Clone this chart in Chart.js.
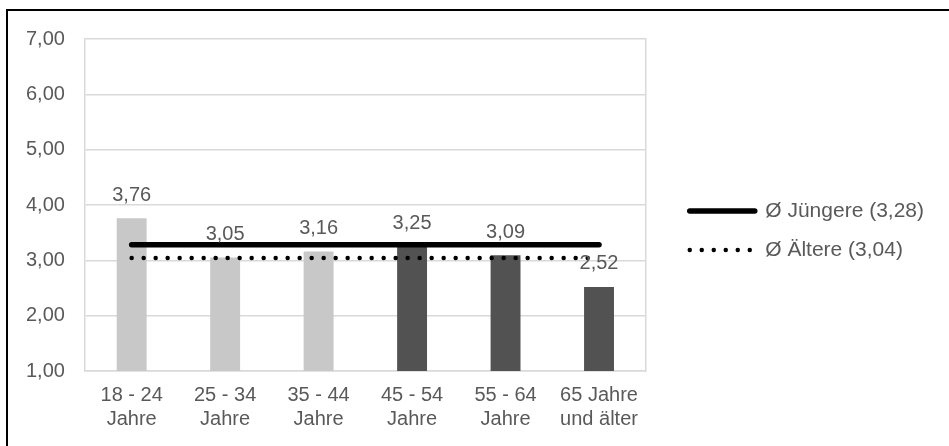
<!DOCTYPE html>
<html lang="de">
<head>
<meta charset="utf-8">
<title>Durchschnitt nach Altersgruppen</title>
<script src="https://cdn.jsdelivr.net/npm/chart.js@4/dist/chart.umd.min.js"></script>
<style>
    html, body { margin: 0; padding: 0; background: #fff; overflow: hidden; }
    #rahmen {
        position: absolute; left: 6px; top: 9px;
        width: 2000px; height: 2000px;
        border: 2px solid #000;
    }
    #box { position: absolute; left: 0; top: 0; width: 949px; height: 446px; }
</style>
</head>
<body>
<div id="rahmen"></div>
<div id="box"><canvas id="altersChart"></canvas></div>
<script>
// Daten
const altersgruppen = [
    ["18 - 24", "Jahre"],
    ["25 - 34", "Jahre"],
    ["35 - 44", "Jahre"],
    ["45 - 54", "Jahre"],
    ["55 - 64", "Jahre"],
    ["65 Jahre", "und älter"]
];
const gruppe = ["jung", "jung", "jung", "alt", "alt", "alt"];
const werte = [3.76, 3.05, 3.16, 3.25, 3.09, 2.52];
const schnittJuengere = [3.28, 3.28, 3.28, 3.28, 3.28, 3.28];
const schnittAeltere = [3.04, 3.04, 3.04, 3.04, 3.04, 3.04];
const labelJuengere = "Ø Jüngere (3,28)";
const labelAeltere = "Ø Ältere (3,04)";
const yTicks = [1, 2, 3, 4, 5, 6, 7];

const schrift = '"Liberation Sans", Arial, sans-serif';
const textFarbe = "#595959";
const gitterFarbe = "#d9d9d9";
const farben = { jung: "#c8c8c8", alt: "#525252" };

function komma(v) {
    return v.toFixed(2).replace(".", ",");
}

// Werte über den Balken
const wertLabels = {
    id: "wertLabels",
    afterDatasetsDraw(chart) {
        const ctx = chart.ctx;
        const meta = chart.getDatasetMeta(0);
        ctx.save();
        ctx.font = "20px " + schrift;
        ctx.fillStyle = textFarbe;
        ctx.textAlign = "center";
        ctx.textBaseline = "middle";
        meta.data.forEach((bar, i) => {
            ctx.fillText(komma(werte[i]), bar.x, bar.y - 23);
        });
        ctx.restore();
    }
};

Chart.defaults.font.family = schrift;
Chart.defaults.font.size = 20;
Chart.defaults.color = textFarbe;

const ctx = document.getElementById("altersChart").getContext("2d");
new Chart(ctx, {
    type: "bar",
    data: {
        labels: altersgruppen,
        datasets: [
            {
                label: "Mittelwert",
                data: werte,
                backgroundColor: gruppe.map(g => farben[g]),
                categoryPercentage: 1,
                barPercentage: 0.32,
                order: 2
            },
            {
                label: labelJuengere,
                data: schnittJuengere,
                type: "line",
                borderColor: "#000",
                borderWidth: 5.5,
                borderCapStyle: "round",
                pointRadius: 0,
                fill: false,
                order: 1
            },
            {
                label: labelAeltere,
                data: schnittAeltere,
                type: "line",
                borderColor: "#000",
                borderWidth: 4.5,
                borderDash: [0, 12],
                borderCapStyle: "round",
                pointRadius: 0,
                fill: false,
                order: 1
            }
        ]
    },
    options: {
        responsive: true,
        maintainAspectRatio: false,
        animation: false,
        layout: { padding: { left: 6, right: 15, top: 18, bottom: 3 } },
        scales: {
            x: {
                grid: { display: false, drawTicks: false },
                border: { display: true, color: gitterFarbe, width: 1.5 },
                ticks: { padding: 12, maxRotation: 0, autoSkip: false, color: textFarbe }
            },
            y: {
                min: 1,
                max: 7,
                afterBuildTicks: scale => { scale.ticks = yTicks.map(v => ({ value: v })); },
                grid: { color: gitterFarbe, lineWidth: 1.5, drawTicks: false },
                border: { display: true, color: gitterFarbe, width: 1.5 },
                ticks: {
                    padding: 20,
                    color: textFarbe,
                    font: { size: 20, lineHeight: 1.9 },
                    callback: v => komma(v)
                }
            },
            yR: {
                type: "linear",
                position: "right",
                min: 1,
                max: 7,
                ticks: { display: false },
                grid: { drawOnChartArea: false, drawTicks: true, tickLength: 26, color: "rgba(0,0,0,0)" },
                border: { display: true, color: gitterFarbe, width: 1.5 }
            }
        },
        plugins: {
            tooltip: { enabled: false },
            legend: {
                position: "right",
                maxWidth: 320,
                labels: {
                    usePointStyle: true,
                    pointStyleWidth: 65,
                    padding: 18,
                    color: textFarbe,
                    font: { size: 21 },
                    generateLabels: chart => chart.data.datasets.slice(1).map((ds, i) => ({
                        text: ds.label,
                        fillStyle: "rgba(0,0,0,0)",
                        strokeStyle: ds.borderColor,
                        lineWidth: ds.borderWidth,
                        lineDash: ds.borderDash || [],
                        lineCap: "round",
                        pointStyle: "line",
                        fontColor: textFarbe,
                        hidden: false,
                        datasetIndex: i + 1
                    }))
                }
            }
        }
    },
    plugins: [wertLabels]
});
</script>
</body>
</html>
